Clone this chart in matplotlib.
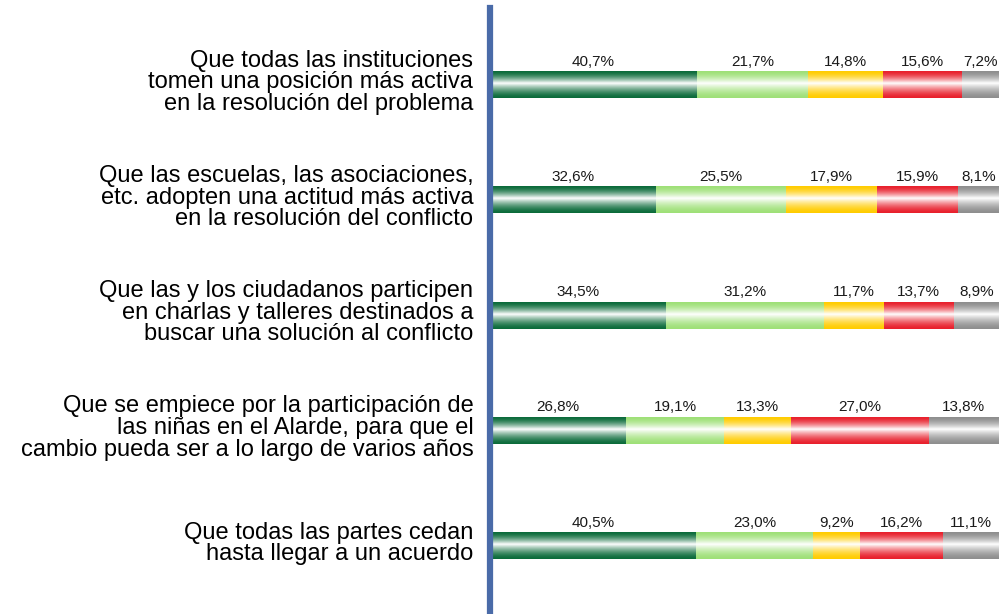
import matplotlib
matplotlib.use('Agg')
import matplotlib.pyplot as plt
import matplotlib.colors as mcolors
import matplotlib.transforms as mtransforms
import numpy as np

plt.rcParams['font.family'] = ['Liberation Sans', 'DejaVu Sans']

categories = [
    'Que todas las instituciones\ntomen una posición más activa\nen la resolución del problema',
    'Que las escuelas, las asociaciones,\netc. adopten una actitud más activa\nen la resolución del conflicto',
    'Que las y los ciudadanos participen\nen charlas y talleres destinados a\nbuscar una solución al conflicto',
    'Que se empiece por la participación de\nlas niñas en el Alarde, para que el\ncambio pueda ser a lo largo de varios años',
    'Que todas las partes cedan\nhasta llegar a un acuerdo',
]

# percentages per answer level (5 levels per category)
level1 = [40.7, 32.6, 34.5, 26.8, 40.5]
level2 = [21.7, 25.5, 31.2, 19.1, 23.0]
level3 = [14.8, 17.9, 11.7, 13.3, 9.2]
level4 = [15.6, 15.9, 13.7, 27.0, 16.2]
level5 = [7.2, 8.1, 8.9, 13.8, 11.1]

series = [level1, level2, level3, level4, level5]
colors = ['#0b6b3a', '#9ee077', '#ffcc00', '#e8202c', '#8e8e8e']

fig = plt.figure(figsize=(9.99, 6.14), dpi=100)
ax = fig.add_axes([490 / 999, 0, 509 / 999, 606 / 614])

y = np.arange(len(categories))
bar_h = 0.226

# vertical gradient profile: colour at edges, white near the middle
t = np.linspace(0, 1, 80)
d = np.where(t < 0.45, (0.45 - t) / 0.45, (t - 0.45) / 0.55)
white = (1 - d) ** 1.6

left = np.zeros(len(categories))
for vals, col in zip(series, colors):
    vals = np.array(vals)
    bars = ax.barh(y, vals, left=left, height=bar_h, color='none', edgecolor='none')
    rgb = np.array(mcolors.to_rgb(col))
    grad = rgb[None, :] * (1 - white[:, None]) + white[:, None]
    img = np.repeat(grad[:, None, :], 2, axis=1)
    for b, v, l in zip(bars, vals, left):
        x0, y0 = b.get_x(), b.get_y()
        ax.imshow(img, extent=(x0, x0 + b.get_width(), y0 + b.get_height(), y0),
                  aspect='auto', interpolation='bilinear', zorder=2)
        ax.text(l + v / 2, y0 - 0.03, f'{v:.1f}%'.replace('.', ','),
                ha='center', va='bottom', fontsize=11, color='#1a1a1a')
    left = left + vals

ax.set_xlim(0, 100)
ax.set_ylim(4.59, -0.668)
ax.set_yticks(y)
ax.set_yticklabels(categories, fontsize=17, linespacing=0.98)
ax.tick_params(axis='y', length=0, pad=12)
# category labels sit slightly above the bar centres
shift = mtransforms.ScaledTranslation(0, 5 / 100, fig.dpi_scale_trans)
for lbl in ax.get_yticklabels():
    lbl.set_transform(lbl.get_transform() + shift)
ax.set_xticks([])
for s in ['top', 'right', 'bottom']:
    ax.spines[s].set_visible(False)
ax.spines['left'].set_color('#4a6ba8')
ax.spines['left'].set_linewidth(4.5)
ax.spines['left'].set_zorder(5)

fig.savefig('out.png', dpi=100)
